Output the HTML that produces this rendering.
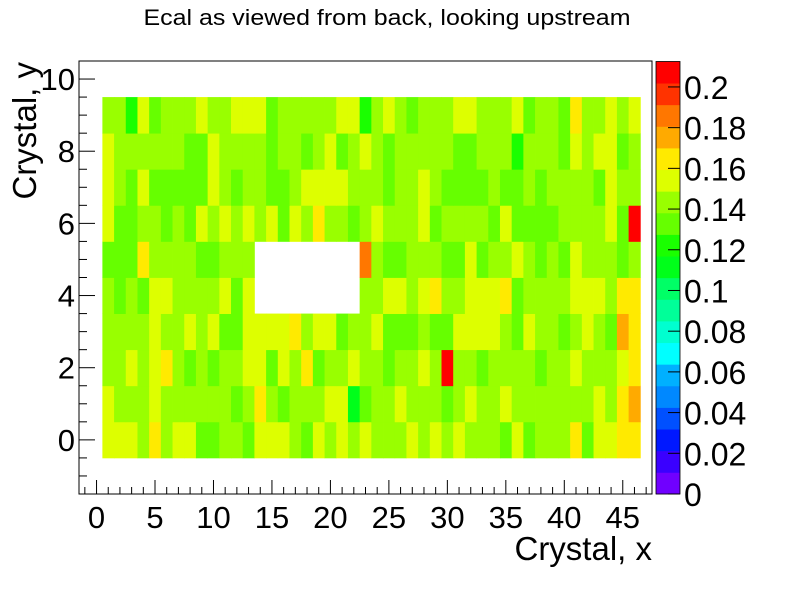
<!DOCTYPE html>
<html><head><meta charset="utf-8"><style>
html,body{margin:0;padding:0;background:#fff;}
svg text{font-family:"Liberation Sans",sans-serif;}
</style></head><body>
<svg id="chart" width="800" height="600" viewBox="0 0 800 600" xmlns="http://www.w3.org/2000/svg">
<rect width="800" height="600" fill="#fff"/>
<text x="387" y="25" font-size="22" text-anchor="middle" textLength="487" lengthAdjust="spacingAndGlyphs">Ecal as viewed from back, looking upstream</text>
<g id="cells"></g>
<g id="axes"></g>
<g id="cbar"></g>
<text x="652" y="560" font-size="33" text-anchor="end">Crystal, x</text>
<text transform="translate(36,62) rotate(-90)" font-size="33" text-anchor="end">Crystal, y</text>
</svg>
<script>
// values per row (y = 0..9), columns x = 1..46 ; 0 = empty
const row0=[.155,.155,.155,.144,.165,.144,.155,.155,.133,.133,.144,.144,.133,.155,.155,.155,.144,.133,.155,.144,.155,.144,.155,.144,.144,.144,.155,.144,.155,.144,.155,.144,.144,.144,.133,.155,.133,.144,.144,.144,.165,.133,.155,.155,.165,.165];
const row1=[.155,.144,.144,.144,.155,.144,.144,.144,.144,.144,.144,.133,.144,.165,.144,.133,.144,.144,.144,.155,.155,.113,.133,.144,.144,.155,.144,.144,.144,.133,.144,.155,.144,.144,.155,.144,.144,.144,.144,.144,.144,.144,.155,.144,.165,.175];
const row2=[.144,.144,.155,.144,.155,.165,.144,.133,.144,.133,.144,.144,.155,.155,.133,.155,.144,.165,.133,.144,.144,.155,.144,.144,.133,.144,.144,.155,.144,.205,.144,.144,.133,.144,.144,.144,.144,.133,.144,.144,.155,.144,.144,.144,.155,.165];
const row3=[.144,.144,.144,.144,.155,.144,.144,.155,.144,.155,.133,.133,.155,.155,.155,.155,.165,.144,.155,.155,.133,.144,.144,.155,.133,.133,.133,.144,.133,.133,.155,.155,.155,.155,.144,.133,.155,.144,.144,.133,.144,.155,.144,.133,.175,.165];
const row4=[.144,.133,.144,.133,.155,.155,.144,.144,.144,.144,.155,.133,.155,0,0,0,0,0,0,0,0,0,.144,.144,.155,.155,.144,.155,.165,.144,.144,.155,.155,.155,.165,.133,.144,.144,.144,.144,.155,.155,.155,.144,.165,.165];
const row5=[.133,.133,.133,.165,.144,.144,.144,.144,.133,.133,.144,.144,.144,0,0,0,0,0,0,0,0,0,.186,.144,.133,.133,.144,.144,.144,.133,.133,.155,.133,.144,.144,.155,.144,.133,.144,.133,.155,.144,.144,.144,.133,.144];
const row6=[.155,.133,.133,.144,.144,.133,.144,.133,.155,.144,.155,.144,.155,.144,.155,.133,.155,.144,.165,.144,.144,.133,.144,.155,.144,.144,.144,.155,.133,.144,.144,.144,.144,.133,.155,.133,.133,.133,.133,.144,.144,.144,.144,.155,.133,.205];
const row7=[.155,.144,.133,.155,.133,.133,.133,.133,.133,.155,.144,.133,.144,.144,.133,.133,.144,.155,.155,.155,.155,.144,.144,.144,.133,.144,.144,.155,.144,.133,.133,.133,.133,.144,.133,.133,.144,.133,.144,.144,.144,.144,.133,.155,.144,.144];
const row8=[.155,.144,.144,.144,.144,.144,.144,.133,.133,.155,.144,.144,.144,.144,.133,.144,.144,.133,.144,.155,.133,.144,.155,.144,.133,.144,.144,.144,.144,.144,.133,.133,.144,.144,.144,.122,.144,.144,.144,.133,.155,.144,.155,.155,.133,.144];
const row9=[.144,.144,.122,.155,.133,.144,.144,.144,.155,.144,.144,.155,.155,.155,.133,.144,.144,.144,.144,.144,.155,.155,.122,.144,.155,.144,.133,.144,.144,.144,.155,.155,.144,.144,.144,.155,.133,.144,.144,.133,.165,.144,.144,.155,.144,.155];
const rows=[row0,row1,row2,row3,row4,row5,row6,row7,row8,row9];
const xTicks=[0,5,10,15,20,25,30,35,40,45];
const yTicks=[0,2,4,6,8,10];
const zTicks=[0,0.02,0.04,0.06,0.08,0.1,0.12,0.14,0.16,0.18,0.2];
const zTickLabels=["0","0.02","0.04","0.06","0.08","0.1","0.12","0.14","0.16","0.18","0.2"];
const palette=["#7000ff","#3a00ff","#0018ff","#0050ff","#0088ff","#00b0ff","#00ffff","#00ffd0","#00ff99","#00ff66","#00ff1a","#1aff00","#66ff00","#99ff00","#ddff00","#ffea00","#ffaa00","#ff7700","#ff3300","#ff0000"];
const zMax=0.2125;

const NS="http://www.w3.org/2000/svg";
const X0=79,X1=652,Y0=61,Y1=494;
const xmin=-1.5,xmax=47.5,ymin=-1.5,ymax=10.5;
function sx(v){return X0+(v-xmin)/(xmax-xmin)*(X1-X0);}
function sy(v){return Y1-(v-ymin)/(ymax-ymin)*(Y1-Y0);}
const CB0=Y1,CB1=61.5;
function sz(v){return CB0-v/zMax*(CB0-CB1);}
function colorOf(v){let i=Math.floor(v/zMax*palette.length);if(i<0)i=0;if(i>=palette.length)i=palette.length-1;return palette[i];}
function mk(tag,attrs,parent){const e=document.createElementNS(NS,tag);for(const k in attrs)e.setAttribute(k,attrs[k]);parent.appendChild(e);return e;}

const cells=document.getElementById('cells');
rows.forEach((r,yi)=>{r.forEach((v,xi)=>{
  if(!v)return;
  const xc=xi+1;
  const x=sx(xc-0.5),w=sx(xc+0.5)-x,y=sy(yi+0.5),h=sy(yi-0.5)-y;
  const e=mk('rect',{x:x,y:y,width:w+0.4,height:h+0.4,fill:colorOf(v)},cells);
  
  
});});

const axes=document.getElementById('axes');
const fr=mk('rect',{x:X0,y:Y0,width:X1-X0,height:Y1-Y0,fill:'none',stroke:'#000','stroke-width':1},axes);


for(let v=-1;v<=47;v++){
  const major=xTicks.includes(v);
  const x=sx(v);
  const t=mk('line',{x1:x,x2:x,y1:Y1,y2:Y1-(major?14:7),stroke:'#000','stroke-width':1},axes);
  
  
}
xTicks.forEach(v=>{
  const t=mk('text',{x:sx(v),y:528,'font-size':31,'text-anchor':'middle'},axes);
  t.textContent=String(v);
  
  
});
for(let v=-1.5;v<=10.5;v+=0.5){
  const major=yTicks.includes(v);
  const y=sy(v);
  const t=mk('line',{x1:X0,x2:X0+(major?16:8),y1:y,y2:y,stroke:'#000','stroke-width':1},axes);
  
  
}
yTicks.forEach(v=>{
  const t=mk('text',{x:75,y:sy(v)+11,'font-size':31,'text-anchor':'end'},axes);
  t.textContent=String(v);
  
  
});

const cbar=document.getElementById('cbar');
palette.forEach((c,i)=>{
  const lo=i*zMax/palette.length,hi=(i+1)*zMax/palette.length;
  const e=mk('rect',{x:656,y:sz(hi),width:24,height:sz(lo)-sz(hi)+0.4,fill:c},cbar);
  
  
});
const cf=mk('rect',{x:656,y:CB1,width:24,height:CB0-CB1,fill:'none',stroke:'#000','stroke-width':0.8},cbar);


zTicks.forEach((v,i)=>{
  const y=sz(v);
  const t=mk('line',{x1:668,x2:680,y1:y,y2:y,stroke:'#000','stroke-width':1},cbar);
  
  
  const l=mk('text',{x:684,y:y+12,'font-size':32},cbar);
  l.textContent=zTickLabels[i];
  
  
});
</script>
</body></html>
